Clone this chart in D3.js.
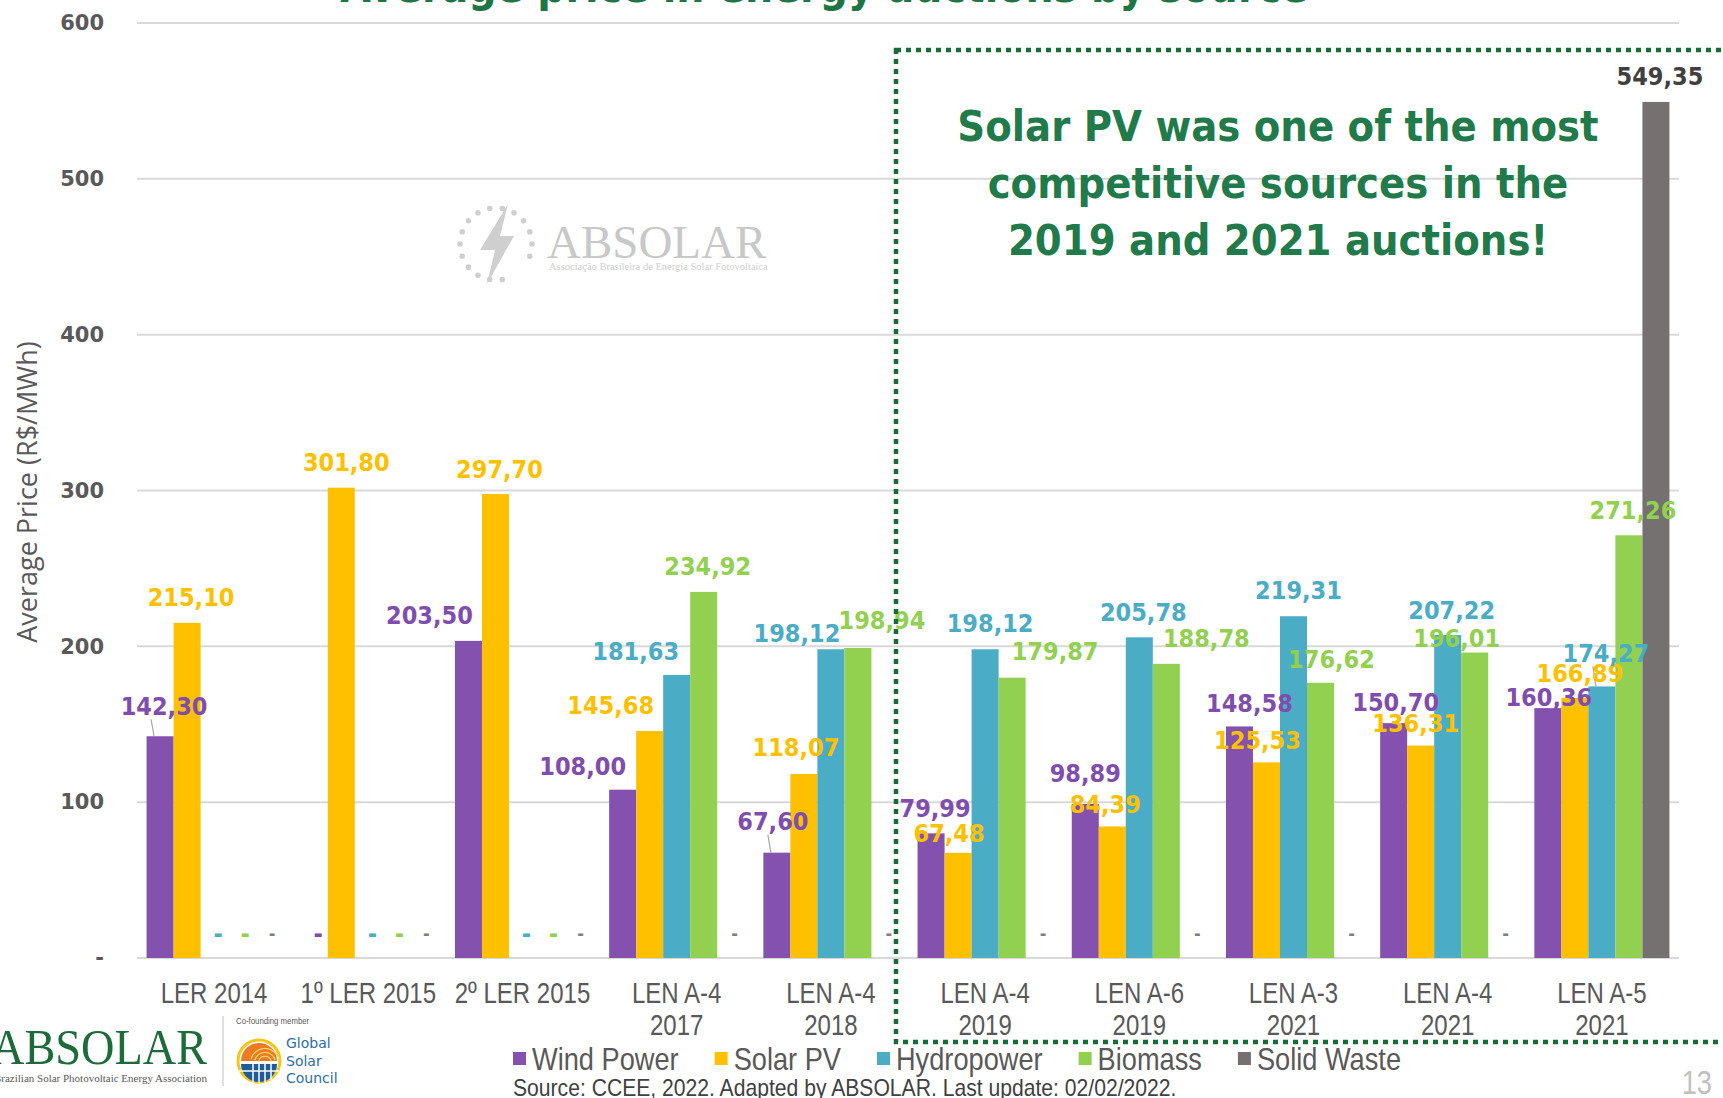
<!DOCTYPE html>
<html>
<head>
<meta charset="utf-8">
<script src="https://cdn.jsdelivr.net/npm/d3@7"></script>
<style>
  html, body { margin: 0; padding: 0; background: #ffffff; }
  svg { display: block; }
</style>
</head>
<body>
<svg id="chart" width="1723" height="1098"></svg>
<script>
// auctions (x categories), each split on two lines like the original
var auctions = ["LER 2014", "1º LER 2015", "2º LER 2015", "LEN A-4 2017", "LEN A-4 2018",
                "LEN A-4 2019", "LEN A-6 2019", "LEN A-3 2021", "LEN A-4 2021", "LEN A-5 2021"];
var auctionLines = [["LER 2014"], ["1º LER 2015"], ["2º LER 2015"], ["LEN A-4", "2017"], ["LEN A-4", "2018"],
                    ["LEN A-4", "2019"], ["LEN A-6", "2019"], ["LEN A-3", "2021"], ["LEN A-4", "2021"], ["LEN A-5", "2021"]];

var sources = ["Wind Power", "Solar PV", "Hydropower", "Biomass", "Solid Waste"];

// average price R$/MWh, 0 = no contract (shown as "-")
var windPower  = [142.30, 0, 203.50, 108.00, 67.60, 79.99, 98.89, 148.58, 150.70, 160.36];
var solarPV    = [215.10, 301.80, 297.70, 145.68, 118.07, 67.48, 84.39, 125.53, 136.31, 166.89];
var hydropower = [0, 0, 0, 181.63, 198.12, 198.12, 205.78, 219.31, 207.22, 174.27];
var biomass    = [0, 0, 0, 234.92, 198.94, 179.87, 188.78, 176.62, 196.01, 271.26];
var solidWaste = [0, 0, 0, 0, 0, 0, 0, 0, 0, 549.35];

var yTicks = [0, 100, 200, 300, 400, 500, 600];

var seriesValues = [windPower, solarPV, hydropower, biomass, solidWaste];
var barColors = ["#8551AE", "#FFC000", "#4BACC6", "#92D050", "#767171"];
var labelColors = ["#7F4DAE", "#FFC000", "#4BACC6", "#92D050", "#404040"];

// label nudges (px) relative to top centre of the bar, like the hand-moved excel labels
var defaultNudge = [4, -25];
var nudges = {
    "0-0": [4, -30], "1-1": [5, -25],
    "2-0": [-39, -25],
    "3-0": [-40, -23], "3-1": [-39, -25], "3-2": [-41, -23],
    "4-0": [-4, -31], "4-1": [-8, -27], "4-2": [-34, -16], "4-3": [24, -27],
    "5-1": [-9, -19], "5-2": [5, -26], "5-3": [43, -26],
    "6-0": [0, -30], "6-1": [-7, -22], "6-3": [40, -25],
    "7-0": [10, -23], "7-1": [-9, -22], "7-2": [5, -26], "7-3": [11, -23],
    "8-0": [2, -21], "8-1": [-5, -22], "8-3": [-18, -14],
    "9-0": [1, -11], "9-1": [5, -24], "9-2": [4, -33]
};
var leaders = ["0-0", "4-0", "9-2"];

var svg = d3.select("#chart");
var plot = { left: 137, right: 1679, top: 23, bottom: 958 };

var y = d3.scaleLinear().domain([0, 600]).range([plot.bottom, plot.top]);
var x0 = d3.scaleBand().domain(auctions).range([plot.left, plot.right]).paddingInner(0.124).paddingOuter(0.062);
var x1 = d3.scaleBand().domain(sources).range([0, x0.bandwidth()]);
var color = d3.scaleOrdinal().domain(sources).range(barColors);

var labelFont = "'DejaVu Sans Condensed', 'DejaVu Sans', sans-serif";
var plainFont = "'Liberation Sans', Arial, sans-serif";

// no narrow font installed, so squeeze the regular one
function narrow(sel, factor) {
    sel.each(function () {
        var w = this.getComputedTextLength();
        d3.select(this).attr("textLength", w * factor).attr("lengthAdjust", "spacingAndGlyphs");
    });
    return sel;
}

// title, mostly cut off by the slide top
svg.append("text")
    .attr("x", 824).attr("y", 2)
    .attr("text-anchor", "middle")
    .style("font-family", labelFont).style("font-weight", "bold").style("font-size", "44px")
    .style("fill", "#1E7545")
    .text("Average price in energy auctions by source");

// gridlines
svg.append("g").selectAll("line")
    .data(yTicks).enter()
    .append("line")
    .attr("x1", plot.left).attr("x2", plot.right)
    .attr("y1", function (d) { return y(d); }).attr("y2", function (d) { return y(d); })
    .style("stroke", "#D9D9D9").style("stroke-width", 2);

// y axis tick labels
var yAxis = d3.axisLeft(y).tickValues(yTicks).tickSize(0).tickPadding(0)
    .tickFormat(function (d) { return d === 0 ? "-" : d; });
svg.append("g")
    .attr("transform", "translate(104,0)")
    .call(yAxis)
    .call(function (g) { g.select(".domain").remove(); })
    .selectAll("text")
    .style("font-family", "'DejaVu Sans', sans-serif").style("font-weight", "bold").style("font-size", "21px")
    .style("fill", "#595959");

svg.append("text")
    .attr("transform", "translate(26,492) rotate(-90)")
    .attr("text-anchor", "middle").attr("dominant-baseline", "central")
    .style("font-family", "'Open Sans', sans-serif").style("font-size", "27px").style("fill", "#595959")
    .text("Average Price (R$/MWh)");

// watermark logo
var wm = svg.append("g").attr("transform", "translate(496,244)");
d3.range(18).forEach(function (i) {
    var a = i / 18 * 2 * Math.PI;
    if (Math.abs(Math.sin(a) - 0.75) < 0.2 && Math.cos(a) > 0) return;
    wm.append("circle").attr("cx", 36 * Math.cos(a)).attr("cy", 36 * Math.sin(a)).attr("r", 2.8).style("fill", "#CFCFCF");
});
wm.append("path")
    .attr("d", "M12,-40 L-16,6 L-1,6 L-9,40 L18,-8 L4,-8 Z")
    .style("fill", "#CFCFCF");
svg.append("text")
    .attr("x", 547).attr("y", 258)
    .style("font-family", "'Liberation Serif', serif").style("font-size", "47px").style("fill", "#C8C8C8")
    .text("ABSOLAR");
svg.append("text")
    .attr("x", 549).attr("y", 270)
    .style("font-family", "'Liberation Serif', serif").style("font-size", "10.5px").style("fill", "#CFCFCF")
    .text("Associação Brasileira de Energia Solar Fotovoltaica");

// bars
var groups = svg.append("g").selectAll("g")
    .data(auctions).enter()
    .append("g")
    .attr("transform", function (d) { return "translate(" + x0(d) + ",0)"; });

groups.selectAll("rect")
    .data(function (d, i) {
        return sources.map(function (s, j) { return { g: i, s: j, key: s, value: seriesValues[j][i] }; });
    })
    .enter().append("rect")
    .attr("x", function (d) { return x1(d.key); })
    .attr("width", x1.bandwidth())
    .attr("y", function (d) { return y(d.value); })
    .attr("height", function (d) { return y(0) - y(d.value); })
    .style("fill", function (d) { return color(d.key); });

// data labels
var labelData = [];
auctions.forEach(function (a, i) {
    sources.forEach(function (s, j) {
        var v = seriesValues[j][i];
        var nd = nudges[i + "-" + j] || defaultNudge;
        var cx = x0(a) + x1(s) + x1.bandwidth() / 2;
        labelData.push({ key: i + "-" + j, s: j, value: v, cx: cx, top: y(v), lx: cx + nd[0], ly: y(v) + nd[1] });
    });
});

svg.append("g").selectAll("line")
    .data(labelData.filter(function (d) { return leaders.indexOf(d.key) >= 0; }))
    .enter().append("line")
    .attr("x1", function (d) { return d.cx - 6; }).attr("y1", function (d) { return d.top; })
    .attr("x2", function (d) { return d.cx - 9; }).attr("y2", function (d) { return d.ly + 13; })
    .style("stroke", "#A6A6A6").style("stroke-width", 1.2);

svg.append("g").selectAll("text")
    .data(labelData).enter()
    .append("text")
    .attr("x", function (d) { return d.lx; })
    .attr("y", function (d) { return d.ly; })
    .attr("text-anchor", "middle").attr("dominant-baseline", "central")
    .style("font-family", labelFont).style("font-weight", "bold")
    .style("font-size", function (d) { return d.value === 0 && d.s === 4 ? "18px" : "25px"; })
    .style("fill", function (d) { return d.value === 0 && d.s === 4 ? "#7F7F7F" : labelColors[d.s]; })
    .text(function (d) { return d.value === 0 ? "-" : d3.format(".2f")(d.value).replace(".", ","); });

// x axis labels, one text per line
var xLabelData = [];
auctions.forEach(function (a, i) {
    auctionLines[i].forEach(function (line, k) { xLabelData.push({ cat: a, line: line, k: k }); });
});
svg.append("g").selectAll("text")
    .data(xLabelData).enter()
    .append("text")
    .attr("x", function (d) { return x0(d.cat) + x0.bandwidth() / 2; })
    .attr("y", function (d) { return 992 + 32 * d.k; })
    .attr("text-anchor", "middle").attr("dominant-baseline", "central")
    .style("font-family", plainFont).style("font-size", "30px").style("fill", "#595959")
    .text(function (d) { return d.line; })
    .call(narrow, 0.8);

// dotted highlight box
svg.append("rect")
    .attr("x", 896).attr("y", 50).attr("width", 900).attr("height", 992)
    .style("fill", "none").style("stroke", "#176B35").style("stroke-width", 4.5)
    .style("stroke-dasharray", "5,5");

svg.append("g").selectAll("text")
    .data(["Solar PV was one of the most", "competitive sources in the", "2019 and 2021 auctions!"])
    .enter().append("text")
    .attr("x", 1278)
    .attr("y", function (d, i) { return 126 + 57 * i; })
    .attr("text-anchor", "middle").attr("dominant-baseline", "central")
    .style("font-family", labelFont).style("font-weight", "bold").style("font-size", "43px")
    .style("fill", "#217A4A")
    .text(function (d) { return d; });

// legend
var legend = svg.append("g").attr("transform", "translate(513,1059)");
var lx = 0;
sources.forEach(function (s) {
    legend.append("rect").attr("x", lx).attr("y", -7).attr("width", 13).attr("height", 13).style("fill", color(s));
    var t = legend.append("text")
        .attr("x", lx + 19).attr("y", 0).attr("dominant-baseline", "central")
        .style("font-family", plainFont).style("font-size", "32px").style("fill", "#595959")
        .text(s)
        .call(narrow, 0.85);
    lx += 19 + (+t.attr("textLength")) + 36;
});

svg.append("text")
    .attr("x", 513).attr("y", 1087).attr("dominant-baseline", "central")
    .style("font-family", plainFont).style("font-size", "24px").style("fill", "#404040")
    .text("Source: CCEE, 2022. Adapted by ABSOLAR. Last update: 02/02/2022.")
    .call(narrow, 0.88);

svg.append("text")
    .attr("x", 1712).attr("y", 1082).attr("text-anchor", "end").attr("dominant-baseline", "central")
    .style("font-family", plainFont).style("font-size", "34px").style("fill", "#C0C0C0")
    .text("13")
    .call(narrow, 0.8);

// footer logos
svg.append("text")
    .attr("x", 207).attr("y", 1064).attr("text-anchor", "end")
    .attr("textLength", 216).attr("lengthAdjust", "spacingAndGlyphs")
    .style("font-family", "'Liberation Serif', serif").style("font-size", "50px").style("fill", "#1E6B3A")
    .text("ABSOLAR");
svg.append("text")
    .attr("x", 207).attr("y", 1082).attr("text-anchor", "end")
    .style("font-family", "'Liberation Serif', serif").style("font-size", "11px").style("fill", "#595959")
    .text("Brazilian Solar Photovoltaic Energy Association");
svg.append("line")
    .attr("x1", 223).attr("x2", 223).attr("y1", 1016).attr("y2", 1086)
    .style("stroke", "#BFBFBF").style("stroke-width", 1);
svg.append("text")
    .attr("x", 236).attr("y", 1024)
    .style("font-family", plainFont).style("font-size", "9.5px").style("fill", "#595959")
    .text("Co-founding member")
    .call(narrow, 0.82);

var gsc = svg.append("g").attr("transform", "translate(259,1061)");
gsc.append("circle").attr("r", 21).style("fill", "#ffffff").style("stroke", "#F5C518").style("stroke-width", 3);
gsc.append("path").attr("d", d3.arc()({ innerRadius: 0, outerRadius: 18, startAngle: -Math.PI / 2, endAngle: Math.PI / 2 }))
    .style("fill", "#EE7B22");
[6, 10, 14].forEach(function (r) {
    gsc.append("path").attr("d", d3.arc()({ innerRadius: r, outerRadius: r + 1.2, startAngle: -Math.PI / 2.4, endAngle: Math.PI / 2.4 }))
        .attr("transform", "translate(6,2)")
        .style("fill", "#FBD36B");
});
gsc.append("path").attr("d", d3.arc()({ innerRadius: 0, outerRadius: 18, startAngle: Math.PI / 2, endAngle: 3 * Math.PI / 2 }))
    .attr("transform", "translate(0,3)")
    .style("fill", "#1F5C99");
[-9, -3, 3, 9].forEach(function (cx) {
    gsc.append("line").attr("x1", cx + 3).attr("x2", cx + 3).attr("y1", 3).attr("y2", 22).style("stroke", "#ffffff").style("stroke-width", 1.5);
});
gsc.append("line").attr("x1", -20).attr("x2", 20).attr("y1", 10).attr("y2", 10).style("stroke", "#ffffff").style("stroke-width", 1.5);

svg.append("g").selectAll("text")
    .data(["Global", "Solar", "Council"]).enter()
    .append("text")
    .attr("x", 286).attr("y", function (d, i) { return 1043 + 17.5 * i; })
    .attr("dominant-baseline", "central")
    .style("font-family", "'DejaVu Sans', sans-serif").style("font-size", "14px").style("fill", "#2C6FA6")
    .text(function (d) { return d; });
</script>
</body>
</html>
